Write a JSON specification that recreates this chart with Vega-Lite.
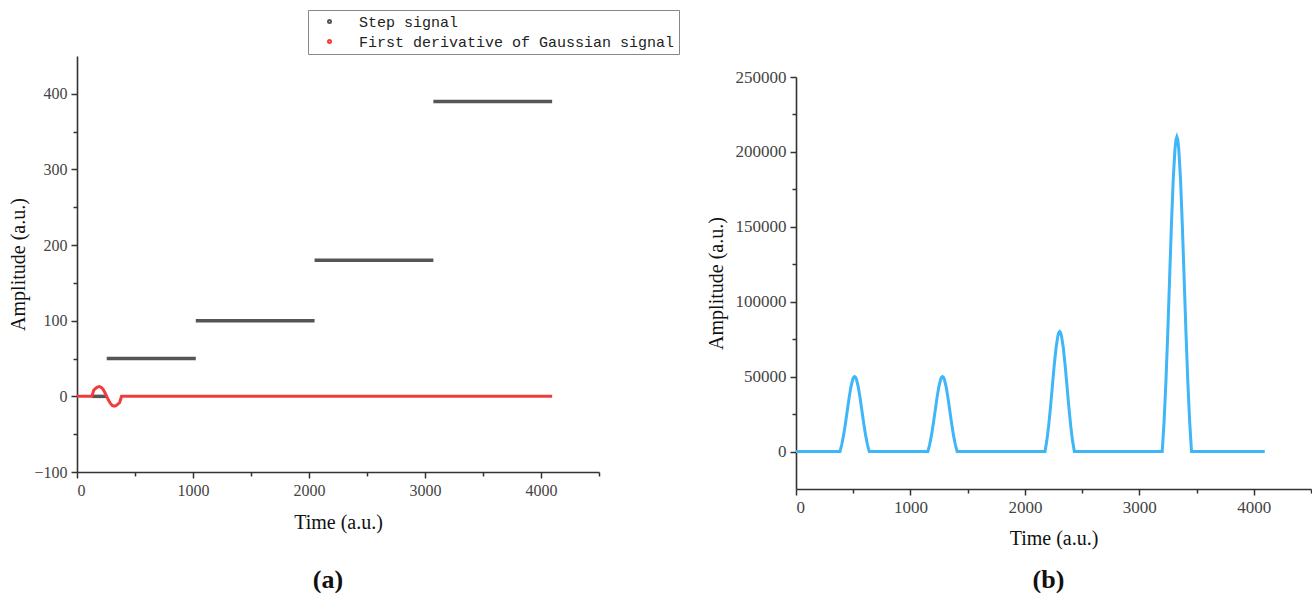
{
  "$schema": "https://vega.github.io/schema/vega-lite/v6.json",
  "background": "white",
  "padding": {"left": 8, "top": 9, "right": 0, "bottom": 0},
  "config": {
    "view": {"stroke": null},
    "axis": {
      "grid": false,
      "domainColor": "#333333",
      "domainWidth": 1.6,
      "tickColor": "#333333",
      "tickWidth": 1.5,
      "labelFont": "Liberation Serif",
      "labelColor": "#444444",
      "labelFontSize": 16,
      "titleFont": "Liberation Serif",
      "titleFontWeight": "normal",
      "titleColor": "#111111",
      "titleFontSize": 20
    },
    "title": {"font": "Liberation Serif", "fontWeight": "bold", "fontSize": 26, "color": "#111111"}
  },
  "datasets": {
    "step": [
      {"series": "Step signal", "seg": "s0", "t": 128, "v": 0},
      {"series": "Step signal", "seg": "s0", "t": 256, "v": 0},
      {"series": "Step signal", "seg": "s1", "t": 256, "v": 50},
      {"series": "Step signal", "seg": "s1", "t": 1024, "v": 50},
      {"series": "Step signal", "seg": "s2", "t": 1024, "v": 100},
      {"series": "Step signal", "seg": "s2", "t": 2048, "v": 100},
      {"series": "Step signal", "seg": "s3", "t": 2048, "v": 180},
      {"series": "Step signal", "seg": "s3", "t": 3072, "v": 180},
      {"series": "Step signal", "seg": "s4", "t": 3072, "v": 390},
      {"series": "Step signal", "seg": "s4", "t": 4096, "v": 390}
    ],
    "deriv": [
      {"series": "First derivative of Gaussian signal", "t": 0, "v": 0},
      {"series": "First derivative of Gaussian signal", "t": 128, "v": 0},
      {"series": "First derivative of Gaussian signal", "t": 144, "v": 8.1},
      {"series": "First derivative of Gaussian signal", "t": 160, "v": 10.4},
      {"series": "First derivative of Gaussian signal", "t": 176, "v": 12.3},
      {"series": "First derivative of Gaussian signal", "t": 192, "v": 13.0},
      {"series": "First derivative of Gaussian signal", "t": 208, "v": 12.1},
      {"series": "First derivative of Gaussian signal", "t": 224, "v": 9.4},
      {"series": "First derivative of Gaussian signal", "t": 240, "v": 5.2},
      {"series": "First derivative of Gaussian signal", "t": 256, "v": 0},
      {"series": "First derivative of Gaussian signal", "t": 272, "v": -5.2},
      {"series": "First derivative of Gaussian signal", "t": 288, "v": -9.4},
      {"series": "First derivative of Gaussian signal", "t": 304, "v": -12.1},
      {"series": "First derivative of Gaussian signal", "t": 320, "v": -13.0},
      {"series": "First derivative of Gaussian signal", "t": 336, "v": -12.3},
      {"series": "First derivative of Gaussian signal", "t": 352, "v": -10.4},
      {"series": "First derivative of Gaussian signal", "t": 368, "v": -8.1},
      {"series": "First derivative of Gaussian signal", "t": 384, "v": 0},
      {"series": "First derivative of Gaussian signal", "t": 4096, "v": 0}
    ],
    "peaks": [
      {"t": 0, "v": 0},
      {"t": 384, "v": 0}, {"t": 400, "v": 4680}, {"t": 416, "v": 10945}, {"t": 432, "v": 18650},
      {"t": 448, "v": 27245}, {"t": 464, "v": 35825}, {"t": 480, "v": 43205}, {"t": 496, "v": 48220},
      {"t": 504, "v": 49550}, {"t": 512, "v": 50000}, {"t": 520, "v": 49550},
      {"t": 528, "v": 48220}, {"t": 544, "v": 43205}, {"t": 560, "v": 35825},
      {"t": 576, "v": 27245}, {"t": 592, "v": 18650}, {"t": 608, "v": 10945}, {"t": 624, "v": 4680},
      {"t": 640, "v": 0},
      {"t": 1152, "v": 0}, {"t": 1168, "v": 4680}, {"t": 1184, "v": 10945}, {"t": 1200, "v": 18650},
      {"t": 1216, "v": 27245}, {"t": 1232, "v": 35825}, {"t": 1248, "v": 43205}, {"t": 1264, "v": 48220},
      {"t": 1272, "v": 49550}, {"t": 1280, "v": 50000}, {"t": 1288, "v": 49550},
      {"t": 1296, "v": 48220}, {"t": 1312, "v": 43205}, {"t": 1328, "v": 35825},
      {"t": 1344, "v": 27245}, {"t": 1360, "v": 18650}, {"t": 1376, "v": 10945}, {"t": 1392, "v": 4680},
      {"t": 1408, "v": 0},
      {"t": 2176, "v": 0}, {"t": 2192, "v": 7488}, {"t": 2208, "v": 17512}, {"t": 2224, "v": 29840},
      {"t": 2240, "v": 43592}, {"t": 2256, "v": 57320}, {"t": 2272, "v": 69128}, {"t": 2288, "v": 77152},
      {"t": 2296, "v": 79280}, {"t": 2304, "v": 80000}, {"t": 2312, "v": 79280},
      {"t": 2320, "v": 77152}, {"t": 2336, "v": 69128}, {"t": 2352, "v": 57320},
      {"t": 2368, "v": 43592}, {"t": 2384, "v": 29840}, {"t": 2400, "v": 17512}, {"t": 2416, "v": 7488},
      {"t": 2432, "v": 0},
      {"t": 3200, "v": 0}, {"t": 3216, "v": 19656}, {"t": 3232, "v": 45969}, {"t": 3248, "v": 78330},
      {"t": 3264, "v": 114429}, {"t": 3280, "v": 150465}, {"t": 3296, "v": 181461}, {"t": 3312, "v": 202524},
      {"t": 3320, "v": 208110}, {"t": 3328, "v": 210000}, {"t": 3336, "v": 208110},
      {"t": 3344, "v": 202524}, {"t": 3360, "v": 181461}, {"t": 3376, "v": 150465},
      {"t": 3392, "v": 114429}, {"t": 3408, "v": 78330}, {"t": 3424, "v": 45969}, {"t": 3440, "v": 19656},
      {"t": 3456, "v": 0},
      {"t": 4096, "v": 0}
    ]
  },
  "spacing": 106,
  "hconcat": [
    {
      "width": 522,
      "height": 416,
      "title": {"text": "(a)", "orient": "bottom", "offset": 35, "dx": -10},
      "encoding": {
        "x": {
          "field": "t", "type": "quantitative",
          "scale": {"domain": [0, 4500], "nice": false, "zero": false},
          "axis": {
            "title": "Time (a.u.)",
            "values": [0, 500, 1000, 1500, 2000, 2500, 3000, 3500, 4000, 4500],
            "format": "d",
            "labelExpr": "datum.value % 1000 === 0 ? datum.label : ''",
            "tickSize": {"condition": {"test": "datum.value % 1000 === 0", "value": 6}, "value": 4},
            "labelPadding": 4,
            "titlePadding": 14
          }
        },
        "y": {
          "field": "v", "type": "quantitative",
          "scale": {"domain": [-100, 450], "nice": false, "zero": false},
          "axis": {
            "title": "Amplitude (a.u.)",
            "values": [-100, -50, 0, 50, 100, 150, 200, 250, 300, 350, 400],
            "format": "d",
            "labelExpr": "datum.value % 100 === 0 ? datum.label : ''",
            "tickSize": {"condition": {"test": "datum.value % 100 === 0", "value": 6}, "value": 4},
            "labelPadding": 4,
            "titlePadding": 5
          }
        },
        "color": {
          "field": "series", "type": "nominal",
          "scale": {"domain": ["Step signal", "First derivative of Gaussian signal"], "range": ["#555555", "#f23c3c"]},
          "legend": {
            "orient": "none",
            "legendX": 231,
            "legendY": -46,
            "title": null,
            "labelFont": "Liberation Mono",
            "labelFontSize": 15,
            "labelColor": "#222222",
            "labelLimit": 0,
            "symbolType": "circle",
            "symbolSize": 4,
            "symbolStrokeWidth": 3,
            "symbolOffset": 10,
            "labelOffset": 22,
            "strokeColor": "#888888",
            "fillColor": "white",
            "padding": 4,
            "rowPadding": 4
          }
        }
      },
      "layer": [
        {
          "data": {"name": "step"},
          "mark": {"type": "line", "strokeWidth": 3.5},
          "encoding": {"detail": {"field": "seg", "type": "nominal"}}
        },
        {
          "data": {"name": "deriv"},
          "mark": {"type": "line", "strokeWidth": 3},
          "encoding": {}
        }
      ]
    },
    {
      "spacing": 11,
      "vconcat": [
        {
          "width": 10,
          "height": 1,
          "data": {"values": []},
          "mark": "point"
        },
        {
          "width": 515,
          "height": 412,
          "title": {"text": "(b)", "orient": "bottom", "offset": 19, "dx": -5},
          "data": {"name": "peaks"},
          "mark": {"type": "line", "color": "#3fb6f7", "strokeWidth": 3},
          "encoding": {
            "x": {
              "field": "t", "type": "quantitative",
              "scale": {"domain": [0, 4500], "nice": false, "zero": false},
              "axis": {
                "title": "Time (a.u.)",
                "values": [0, 500, 1000, 1500, 2000, 2500, 3000, 3500, 4000, 4500],
                "format": "d",
                "labelExpr": "datum.value % 1000 === 0 ? datum.label : ''",
                "tickSize": {"condition": {"test": "datum.value % 1000 === 0", "value": 6}, "value": 4},
                "labelFontSize": 17,
                "labelPadding": 4,
                "titlePadding": 13
              }
            },
            "y": {
              "field": "v", "type": "quantitative",
              "scale": {"domain": [-25000, 250000], "nice": false, "zero": false},
              "axis": {
                "title": "Amplitude (a.u.)",
                "values": [0, 25000, 50000, 75000, 100000, 125000, 150000, 175000, 200000, 225000, 250000],
                "format": "d",
                "labelExpr": "datum.value % 50000 === 0 ? datum.label : ''",
                "tickSize": {"condition": {"test": "datum.value % 50000 === 0", "value": 6}, "value": 4},
                "labelFontSize": 17,
                "labelPadding": 4,
                "titlePadding": 9
              }
            }
          }
        }
      ]
    }
  ]
}
